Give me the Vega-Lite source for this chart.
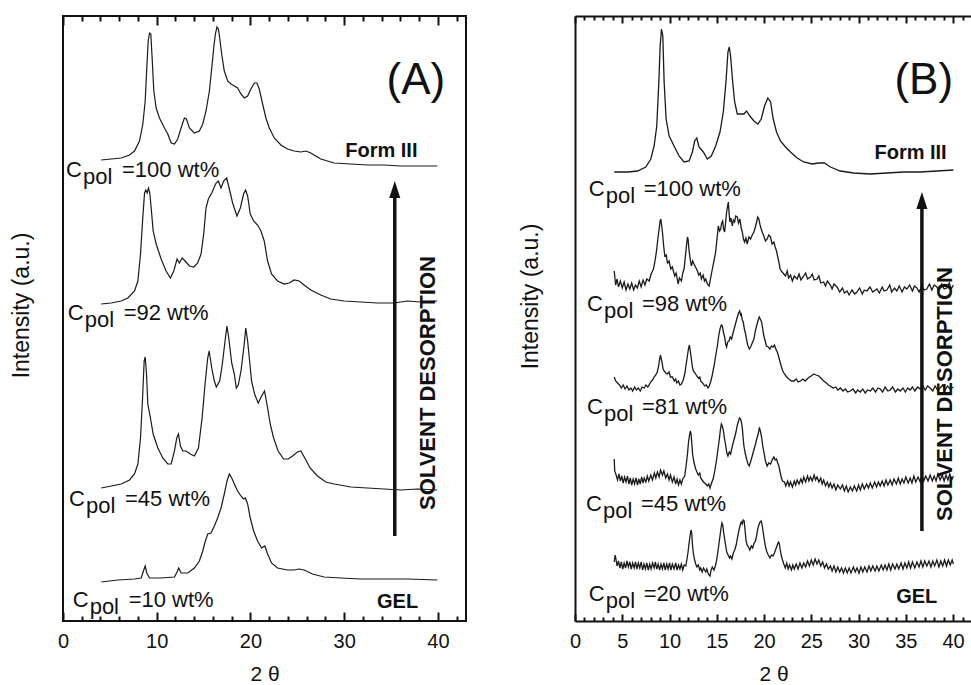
{
"$schema":"https://vega.github.io/schema/vega-lite/v6.json",
"autosize":{"type":"pad"},
"padding":{"left":9,"top":14,"right":0,"bottom":0},
"bounds":"flush",
"spacing":109,
"background":"white",
"config":{
 "font":"Liberation Sans",
 "axis":{"labelFont":"Liberation Sans","titleFont":"Liberation Sans","labelColor":"#111","titleColor":"#111","domainColor":"#111","tickColor":"#111","grid":false,"titleFontWeight":"normal","labelFlush":false,"labelOverlap":false,"labelFontSize":20,"tickWidth":2},
 "text":{"font":"Liberation Sans","color":"#111"}
},
"datasets":{
"curvesA":[
{"s":"a100","x":4.08,"y":461},{"s":"a100","x":5.15,"y":462},{"s":"a100","x":6.21,"y":463},{"s":"a100","x":7.1,"y":466},{"s":"a100","x":7.63,"y":470},{"s":"a100","x":8.16,"y":480},{"s":"a100","x":8.52,"y":497},{"s":"a100","x":8.77,"y":520},{"s":"a100","x":8.94,"y":553},{"s":"a100","x":9.09,"y":580},{"s":"a100","x":9.23,"y":588},{"s":"a100","x":9.37,"y":587},{"s":"a100","x":9.51,"y":563},{"s":"a100","x":9.69,"y":530},{"s":"a100","x":9.94,"y":513},{"s":"a100","x":10.29,"y":503},{"s":"a100","x":10.83,"y":493},{"s":"a100","x":11.18,"y":487},{"s":"a100","x":11.54,"y":478},{"s":"a100","x":11.89,"y":477},{"s":"a100","x":12.24,"y":482},{"s":"a100","x":12.6,"y":493},{"s":"a100","x":12.95,"y":503},{"s":"a100","x":13.17,"y":502},{"s":"a100","x":13.49,"y":493},{"s":"a100","x":14.02,"y":488},{"s":"a100","x":14.55,"y":490},{"s":"a100","x":14.91,"y":497},{"s":"a100","x":15.26,"y":510},{"s":"a100","x":15.62,"y":530},{"s":"a100","x":15.87,"y":553},{"s":"a100","x":16.08,"y":573},{"s":"a100","x":16.26,"y":587},{"s":"a100","x":16.43,"y":594},{"s":"a100","x":16.58,"y":592},{"s":"a100","x":16.72,"y":583},{"s":"a100","x":16.93,"y":567},{"s":"a100","x":17.21,"y":550},{"s":"a100","x":17.57,"y":540},{"s":"a100","x":17.92,"y":537},{"s":"a100","x":18.28,"y":535},{"s":"a100","x":18.63,"y":533},{"s":"a100","x":18.99,"y":527},{"s":"a100","x":19.34,"y":523},{"s":"a100","x":19.7,"y":525},{"s":"a100","x":20.05,"y":532},{"s":"a100","x":20.41,"y":538},{"s":"a100","x":20.69,"y":538},{"s":"a100","x":20.94,"y":532},{"s":"a100","x":21.3,"y":517},{"s":"a100","x":21.65,"y":503},{"s":"a100","x":22.01,"y":493},{"s":"a100","x":22.54,"y":483},{"s":"a100","x":23.25,"y":476},{"s":"a100","x":23.96,"y":472},{"s":"a100","x":24.67,"y":470},{"s":"a100","x":25.38,"y":469},{"s":"a100","x":25.91,"y":470},{"s":"a100","x":26.44,"y":468},{"s":"a100","x":26.97,"y":465},{"s":"a100","x":27.51,"y":462},{"s":"a100","x":28.93,"y":458},{"s":"a100","x":30.7,"y":457},{"s":"a100","x":32.48,"y":456},{"s":"a100","x":34.25,"y":456},{"s":"a100","x":36.02,"y":455},{"s":"a100","x":37.8,"y":455},{"s":"a100","x":39.93,"y":455},
{"s":"a92","x":4.08,"y":317},{"s":"a92","x":5.15,"y":318},{"s":"a92","x":6.21,"y":320},{"s":"a92","x":6.92,"y":323},{"s":"a92","x":7.63,"y":330},{"s":"a92","x":7.99,"y":340},{"s":"a92","x":8.27,"y":367},{"s":"a92","x":8.49,"y":400},{"s":"a92","x":8.7,"y":428},{"s":"a92","x":8.84,"y":431},{"s":"a92","x":8.98,"y":428},{"s":"a92","x":9.12,"y":433},{"s":"a92","x":9.26,"y":428},{"s":"a92","x":9.41,"y":413},{"s":"a92","x":9.62,"y":390},{"s":"a92","x":9.94,"y":377},{"s":"a92","x":10.47,"y":362},{"s":"a92","x":11.0,"y":350},{"s":"a92","x":11.46,"y":343},{"s":"a92","x":11.82,"y":350},{"s":"a92","x":12.17,"y":362},{"s":"a92","x":12.42,"y":358},{"s":"a92","x":12.71,"y":363},{"s":"a92","x":13.03,"y":360},{"s":"a92","x":13.49,"y":355},{"s":"a92","x":13.95,"y":354},{"s":"a92","x":14.37,"y":358},{"s":"a92","x":14.73,"y":367},{"s":"a92","x":15.01,"y":387},{"s":"a92","x":15.26,"y":413},{"s":"a92","x":15.51,"y":422},{"s":"a92","x":15.87,"y":428},{"s":"a92","x":16.33,"y":438},{"s":"a92","x":16.58,"y":440},{"s":"a92","x":16.86,"y":433},{"s":"a92","x":17.14,"y":440},{"s":"a92","x":17.46,"y":443},{"s":"a92","x":17.75,"y":432},{"s":"a92","x":18.1,"y":418},{"s":"a92","x":18.56,"y":405},{"s":"a92","x":18.92,"y":413},{"s":"a92","x":19.27,"y":427},{"s":"a92","x":19.48,"y":431},{"s":"a92","x":19.7,"y":425},{"s":"a92","x":19.98,"y":407},{"s":"a92","x":20.34,"y":400},{"s":"a92","x":20.76,"y":396},{"s":"a92","x":21.12,"y":390},{"s":"a92","x":21.47,"y":380},{"s":"a92","x":21.83,"y":360},{"s":"a92","x":22.25,"y":347},{"s":"a92","x":22.89,"y":340},{"s":"a92","x":23.6,"y":337},{"s":"a92","x":24.13,"y":338},{"s":"a92","x":24.67,"y":341},{"s":"a92","x":25.2,"y":340},{"s":"a92","x":25.73,"y":336},{"s":"a92","x":26.44,"y":331},{"s":"a92","x":27.51,"y":326},{"s":"a92","x":28.57,"y":322},{"s":"a92","x":29.99,"y":320},{"s":"a92","x":31.77,"y":319},{"s":"a92","x":33.54,"y":318},{"s":"a92","x":35.32,"y":318},{"s":"a92","x":36.74,"y":320},{"s":"a92","x":38.15,"y":319},{"s":"a92","x":39.93,"y":320},
{"s":"a45","x":4.08,"y":133},{"s":"a45","x":5.15,"y":135},{"s":"a45","x":6.21,"y":137},{"s":"a45","x":7.1,"y":141},{"s":"a45","x":7.63,"y":147},{"s":"a45","x":7.99,"y":157},{"s":"a45","x":8.27,"y":183},{"s":"a45","x":8.49,"y":223},{"s":"a45","x":8.66,"y":260},{"s":"a45","x":8.77,"y":264},{"s":"a45","x":8.91,"y":247},{"s":"a45","x":9.05,"y":217},{"s":"a45","x":9.33,"y":203},{"s":"a45","x":9.62,"y":187},{"s":"a45","x":10.12,"y":173},{"s":"a45","x":10.65,"y":163},{"s":"a45","x":11.18,"y":157},{"s":"a45","x":11.54,"y":157},{"s":"a45","x":11.89,"y":170},{"s":"a45","x":12.14,"y":183},{"s":"a45","x":12.32,"y":187},{"s":"a45","x":12.53,"y":175},{"s":"a45","x":12.78,"y":170},{"s":"a45","x":13.13,"y":170},{"s":"a45","x":13.59,"y":167},{"s":"a45","x":14.02,"y":165},{"s":"a45","x":14.45,"y":173},{"s":"a45","x":14.84,"y":203},{"s":"a45","x":15.16,"y":237},{"s":"a45","x":15.44,"y":263},{"s":"a45","x":15.6,"y":270},{"s":"a45","x":15.87,"y":253},{"s":"a45","x":16.15,"y":240},{"s":"a45","x":16.36,"y":234},{"s":"a45","x":16.72,"y":240},{"s":"a45","x":17.0,"y":257},{"s":"a45","x":17.29,"y":280},{"s":"a45","x":17.49,"y":295},{"s":"a45","x":17.7,"y":282},{"s":"a45","x":18.0,"y":258},{"s":"a45","x":18.28,"y":247},{"s":"a45","x":18.49,"y":233},{"s":"a45","x":18.7,"y":236},{"s":"a45","x":18.99,"y":250},{"s":"a45","x":19.34,"y":277},{"s":"a45","x":19.5,"y":293},{"s":"a45","x":19.7,"y":280},{"s":"a45","x":19.88,"y":263},{"s":"a45","x":20.12,"y":240},{"s":"a45","x":20.44,"y":227},{"s":"a45","x":20.83,"y":218},{"s":"a45","x":21.19,"y":225},{"s":"a45","x":21.5,"y":230},{"s":"a45","x":21.76,"y":217},{"s":"a45","x":22.11,"y":197},{"s":"a45","x":22.47,"y":183},{"s":"a45","x":22.96,"y":170},{"s":"a45","x":23.53,"y":162},{"s":"a45","x":24.03,"y":162},{"s":"a45","x":24.49,"y":165},{"s":"a45","x":25.02,"y":169},{"s":"a45","x":25.38,"y":170},{"s":"a45","x":25.8,"y":163},{"s":"a45","x":26.37,"y":153},{"s":"a45","x":27.15,"y":145},{"s":"a45","x":28.04,"y":139},{"s":"a45","x":28.93,"y":137},{"s":"a45","x":30.7,"y":134},{"s":"a45","x":32.48,"y":133},{"s":"a45","x":34.25,"y":132},{"s":"a45","x":36.02,"y":131},{"s":"a45","x":37.8,"y":132},{"s":"a45","x":39.93,"y":131},
{"s":"a10","x":4.08,"y":39},{"s":"a10","x":5.86,"y":41},{"s":"a10","x":7.63,"y":42},{"s":"a10","x":8.34,"y":43},{"s":"a10","x":8.62,"y":51},{"s":"a10","x":8.77,"y":55},{"s":"a10","x":8.94,"y":48},{"s":"a10","x":9.23,"y":43},{"s":"a10","x":10.47,"y":43},{"s":"a10","x":11.89,"y":44},{"s":"a10","x":12.17,"y":49},{"s":"a10","x":12.35,"y":53},{"s":"a10","x":12.6,"y":48},{"s":"a10","x":13.31,"y":48},{"s":"a10","x":14.02,"y":53},{"s":"a10","x":14.55,"y":60},{"s":"a10","x":14.91,"y":70},{"s":"a10","x":15.19,"y":80},{"s":"a10","x":15.44,"y":87},{"s":"a10","x":15.79,"y":88},{"s":"a10","x":16.15,"y":95},{"s":"a10","x":16.5,"y":103},{"s":"a10","x":16.86,"y":113},{"s":"a10","x":17.21,"y":127},{"s":"a10","x":17.5,"y":140},{"s":"a10","x":17.75,"y":147},{"s":"a10","x":18.0,"y":143},{"s":"a10","x":18.28,"y":137},{"s":"a10","x":18.63,"y":130},{"s":"a10","x":18.99,"y":125},{"s":"a10","x":19.27,"y":122},{"s":"a10","x":19.45,"y":123},{"s":"a10","x":19.7,"y":117},{"s":"a10","x":19.98,"y":103},{"s":"a10","x":20.34,"y":90},{"s":"a10","x":20.76,"y":80},{"s":"a10","x":21.19,"y":73},{"s":"a10","x":21.54,"y":75},{"s":"a10","x":21.83,"y":67},{"s":"a10","x":22.25,"y":58},{"s":"a10","x":22.89,"y":53},{"s":"a10","x":23.96,"y":51},{"s":"a10","x":24.67,"y":51},{"s":"a10","x":25.2,"y":52},{"s":"a10","x":25.73,"y":51},{"s":"a10","x":26.62,"y":47},{"s":"a10","x":27.86,"y":44},{"s":"a10","x":29.64,"y":43},{"s":"a10","x":31.77,"y":42},{"s":"a10","x":34.25,"y":42},{"s":"a10","x":36.73,"y":42},{"s":"a10","x":39.93,"y":41}
],
"curvesB":[
{"s":"b100","x":4.15,"y":449},{"s":"b100","x":5.56,"y":449},{"s":"b100","x":6.61,"y":450},{"s":"b100","x":7.49,"y":454},{"s":"b100","x":8.02,"y":462},{"s":"b100","x":8.37,"y":475},{"s":"b100","x":8.65,"y":495},{"s":"b100","x":8.87,"y":539},{"s":"b100","x":9.01,"y":575},{"s":"b100","x":9.15,"y":592},{"s":"b100","x":9.29,"y":585},{"s":"b100","x":9.43,"y":539},{"s":"b100","x":9.64,"y":502},{"s":"b100","x":9.96,"y":485},{"s":"b100","x":10.48,"y":475},{"s":"b100","x":11.01,"y":465},{"s":"b100","x":11.54,"y":459},{"s":"b100","x":12.07,"y":460},{"s":"b100","x":12.42,"y":469},{"s":"b100","x":12.66,"y":480},{"s":"b100","x":12.88,"y":483},{"s":"b100","x":13.12,"y":474},{"s":"b100","x":13.58,"y":469},{"s":"b100","x":14.0,"y":462},{"s":"b100","x":14.42,"y":465},{"s":"b100","x":14.88,"y":475},{"s":"b100","x":15.34,"y":489},{"s":"b100","x":15.69,"y":509},{"s":"b100","x":15.97,"y":539},{"s":"b100","x":16.18,"y":569},{"s":"b100","x":16.32,"y":574},{"s":"b100","x":16.46,"y":565},{"s":"b100","x":16.68,"y":539},{"s":"b100","x":16.89,"y":519},{"s":"b100","x":17.17,"y":507},{"s":"b100","x":17.52,"y":507},{"s":"b100","x":17.87,"y":507},{"s":"b100","x":18.15,"y":510},{"s":"b100","x":18.5,"y":505},{"s":"b100","x":18.93,"y":500},{"s":"b100","x":19.35,"y":497},{"s":"b100","x":19.7,"y":502},{"s":"b100","x":20.05,"y":515},{"s":"b100","x":20.4,"y":523},{"s":"b100","x":20.69,"y":519},{"s":"b100","x":20.97,"y":502},{"s":"b100","x":21.32,"y":489},{"s":"b100","x":21.74,"y":480},{"s":"b100","x":22.27,"y":474},{"s":"b100","x":22.8,"y":469},{"s":"b100","x":23.5,"y":463},{"s":"b100","x":24.2,"y":459},{"s":"b100","x":25.08,"y":457},{"s":"b100","x":25.79,"y":458},{"s":"b100","x":26.38,"y":458},{"s":"b100","x":27.02,"y":454},{"s":"b100","x":28.07,"y":450},{"s":"b100","x":29.48,"y":448},{"s":"b100","x":31.24,"y":447},{"s":"b100","x":33.0,"y":448},{"s":"b100","x":34.76,"y":449},{"s":"b100","x":36.52,"y":449},{"s":"b100","x":38.28,"y":450},{"s":"b100","x":40.03,"y":451},
{"s":"b98","x":4.15,"y":350},{"s":"b98","x":4.3,"y":336},{"s":"b98","x":4.45,"y":342},{"s":"b98","x":4.6,"y":334},{"s":"b98","x":4.8,"y":340},{"s":"b98","x":5.0,"y":333},{"s":"b98","x":5.2,"y":339},{"s":"b98","x":5.4,"y":331},{"s":"b98","x":5.6,"y":337},{"s":"b98","x":5.8,"y":332},{"s":"b98","x":6.0,"y":338},{"s":"b98","x":6.2,"y":331},{"s":"b98","x":6.4,"y":336},{"s":"b98","x":6.6,"y":333},{"s":"b98","x":6.8,"y":340},{"s":"b98","x":7.0,"y":334},{"s":"b98","x":7.2,"y":341},{"s":"b98","x":7.4,"y":336},{"s":"b98","x":7.6,"y":342},{"s":"b98","x":7.85,"y":340},{"s":"b98","x":8.05,"y":347},{"s":"b98","x":8.3,"y":352},{"s":"b98","x":8.5,"y":362},{"s":"b98","x":8.65,"y":372},{"s":"b98","x":8.8,"y":385},{"s":"b98","x":8.9,"y":392},{"s":"b98","x":9.0,"y":400},{"s":"b98","x":9.08,"y":402},{"s":"b98","x":9.17,"y":395},{"s":"b98","x":9.25,"y":389},{"s":"b98","x":9.38,"y":375},{"s":"b98","x":9.5,"y":365},{"s":"b98","x":9.65,"y":366},{"s":"b98","x":9.78,"y":358},{"s":"b98","x":9.95,"y":360},{"s":"b98","x":10.13,"y":352},{"s":"b98","x":10.3,"y":354},{"s":"b98","x":10.55,"y":345},{"s":"b98","x":10.7,"y":348},{"s":"b98","x":10.91,"y":337},{"s":"b98","x":11.05,"y":343},{"s":"b98","x":11.26,"y":340},{"s":"b98","x":11.4,"y":348},{"s":"b98","x":11.54,"y":352},{"s":"b98","x":11.68,"y":365},{"s":"b98","x":11.79,"y":375},{"s":"b98","x":11.9,"y":384},{"s":"b98","x":11.96,"y":382},{"s":"b98","x":12.05,"y":372},{"s":"b98","x":12.14,"y":365},{"s":"b98","x":12.22,"y":360},{"s":"b98","x":12.31,"y":355},{"s":"b98","x":12.45,"y":360},{"s":"b98","x":12.59,"y":357},{"s":"b98","x":12.75,"y":354},{"s":"b98","x":12.95,"y":350},{"s":"b98","x":13.1,"y":346},{"s":"b98","x":13.25,"y":348},{"s":"b98","x":13.37,"y":342},{"s":"b98","x":13.55,"y":346},{"s":"b98","x":13.7,"y":340},{"s":"b98","x":13.83,"y":342},{"s":"b98","x":14.0,"y":337},{"s":"b98","x":14.19,"y":335},{"s":"b98","x":14.35,"y":343},{"s":"b98","x":14.53,"y":352},{"s":"b98","x":14.7,"y":360},{"s":"b98","x":14.88,"y":369},{"s":"b98","x":15.02,"y":382},{"s":"b98","x":15.16,"y":395},{"s":"b98","x":15.3,"y":390},{"s":"b98","x":15.41,"y":392},{"s":"b98","x":15.52,"y":398},{"s":"b98","x":15.62,"y":400},{"s":"b98","x":15.72,"y":392},{"s":"b98","x":15.83,"y":389},{"s":"b98","x":15.95,"y":400},{"s":"b98","x":16.04,"y":409},{"s":"b98","x":16.13,"y":414},{"s":"b98","x":16.22,"y":419},{"s":"b98","x":16.3,"y":408},{"s":"b98","x":16.39,"y":399},{"s":"b98","x":16.5,"y":403},{"s":"b98","x":16.64,"y":395},{"s":"b98","x":16.76,"y":401},{"s":"b98","x":16.89,"y":399},{"s":"b98","x":17.0,"y":405},{"s":"b98","x":17.17,"y":404},{"s":"b98","x":17.3,"y":398},{"s":"b98","x":17.45,"y":402},{"s":"b98","x":17.58,"y":393},{"s":"b98","x":17.7,"y":389},{"s":"b98","x":17.82,"y":382},{"s":"b98","x":17.94,"y":379},{"s":"b98","x":18.08,"y":383},{"s":"b98","x":18.22,"y":377},{"s":"b98","x":18.4,"y":384},{"s":"b98","x":18.58,"y":382},{"s":"b98","x":18.75,"y":386},{"s":"b98","x":18.93,"y":389},{"s":"b98","x":19.08,"y":394},{"s":"b98","x":19.21,"y":399},{"s":"b98","x":19.33,"y":404},{"s":"b98","x":19.45,"y":402},{"s":"b98","x":19.58,"y":396},{"s":"b98","x":19.7,"y":392},{"s":"b98","x":19.84,"y":388},{"s":"b98","x":19.98,"y":385},{"s":"b98","x":20.15,"y":380},{"s":"b98","x":20.33,"y":382},{"s":"b98","x":20.5,"y":386},{"s":"b98","x":20.69,"y":384},{"s":"b98","x":20.85,"y":377},{"s":"b98","x":21.04,"y":379},{"s":"b98","x":21.18,"y":374},{"s":"b98","x":21.32,"y":370},{"s":"b98","x":21.45,"y":364},{"s":"b98","x":21.57,"y":359},{"s":"b98","x":21.7,"y":352},{"s":"b98","x":21.81,"y":350},{"s":"b98","x":22.0,"y":348},{"s":"b98","x":22.27,"y":345},{"s":"b98","x":22.45,"y":350},{"s":"b98","x":22.6,"y":343},{"s":"b98","x":22.8,"y":346},{"s":"b98","x":23.0,"y":340},{"s":"b98","x":23.2,"y":345},{"s":"b98","x":23.5,"y":342},{"s":"b98","x":23.7,"y":347},{"s":"b98","x":23.9,"y":341},{"s":"b98","x":24.2,"y":345},{"s":"b98","x":24.4,"y":348},{"s":"b98","x":24.6,"y":342},{"s":"b98","x":24.91,"y":344},{"s":"b98","x":25.1,"y":347},{"s":"b98","x":25.3,"y":341},{"s":"b98","x":25.61,"y":342},{"s":"b98","x":25.8,"y":345},{"s":"b98","x":26.0,"y":338},{"s":"b98","x":26.31,"y":339},{"s":"b98","x":26.5,"y":335},{"s":"b98","x":26.7,"y":340},{"s":"b98","x":27.02,"y":336},{"s":"b98","x":27.2,"y":332},{"s":"b98","x":27.4,"y":337},{"s":"b98","x":27.72,"y":334},{"s":"b98","x":28.0,"y":329},{"s":"b98","x":28.3,"y":333},{"s":"b98","x":28.5,"y":328},{"s":"b98","x":28.78,"y":330},{"s":"b98","x":29.0,"y":326},{"s":"b98","x":29.3,"y":331},{"s":"b98","x":29.6,"y":327},{"s":"b98","x":29.83,"y":329},{"s":"b98","x":30.1,"y":333},{"s":"b98","x":30.4,"y":327},{"s":"b98","x":30.6,"y":331},{"s":"b98","x":30.89,"y":330},{"s":"b98","x":31.2,"y":334},{"s":"b98","x":31.5,"y":329},{"s":"b98","x":31.94,"y":332},{"s":"b98","x":32.2,"y":328},{"s":"b98","x":32.5,"y":334},{"s":"b98","x":32.7,"y":330},{"s":"b98","x":33.0,"y":331},{"s":"b98","x":33.3,"y":336},{"s":"b98","x":33.5,"y":329},{"s":"b98","x":33.8,"y":333},{"s":"b98","x":34.05,"y":330},{"s":"b98","x":34.3,"y":335},{"s":"b98","x":34.6,"y":329},{"s":"b98","x":34.85,"y":334},{"s":"b98","x":35.11,"y":332},{"s":"b98","x":35.4,"y":336},{"s":"b98","x":35.7,"y":330},{"s":"b98","x":35.9,"y":335},{"s":"b98","x":36.17,"y":333},{"s":"b98","x":36.4,"y":329},{"s":"b98","x":36.7,"y":335},{"s":"b98","x":36.95,"y":331},{"s":"b98","x":37.22,"y":332},{"s":"b98","x":37.5,"y":337},{"s":"b98","x":37.75,"y":331},{"s":"b98","x":38.0,"y":336},{"s":"b98","x":38.28,"y":334},{"s":"b98","x":38.5,"y":330},{"s":"b98","x":38.8,"y":337},{"s":"b98","x":39.05,"y":332},{"s":"b98","x":39.33,"y":333},{"s":"b98","x":39.6,"y":338},{"s":"b98","x":39.8,"y":332},{"s":"b98","x":40.03,"y":336},
{"s":"b81","x":4.15,"y":244},{"s":"b81","x":4.3,"y":240},{"s":"b81","x":4.5,"y":238},{"s":"b81","x":4.7,"y":236},{"s":"b81","x":4.9,"y":233},{"s":"b81","x":5.1,"y":236},{"s":"b81","x":5.3,"y":232},{"s":"b81","x":5.5,"y":235},{"s":"b81","x":5.7,"y":231},{"s":"b81","x":5.91,"y":233},{"s":"b81","x":6.1,"y":230},{"s":"b81","x":6.3,"y":234},{"s":"b81","x":6.5,"y":231},{"s":"b81","x":6.7,"y":233},{"s":"b81","x":6.9,"y":230},{"s":"b81","x":7.1,"y":234},{"s":"b81","x":7.32,"y":233},{"s":"b81","x":7.5,"y":236},{"s":"b81","x":7.7,"y":234},{"s":"b81","x":7.85,"y":236},{"s":"b81","x":8.0,"y":239},{"s":"b81","x":8.2,"y":241},{"s":"b81","x":8.37,"y":244},{"s":"b81","x":8.55,"y":246},{"s":"b81","x":8.7,"y":249},{"s":"b81","x":8.85,"y":255},{"s":"b81","x":8.95,"y":262},{"s":"b81","x":9.05,"y":266},{"s":"b81","x":9.12,"y":262},{"s":"b81","x":9.22,"y":258},{"s":"b81","x":9.32,"y":252},{"s":"b81","x":9.43,"y":250},{"s":"b81","x":9.6,"y":248},{"s":"b81","x":9.78,"y":247},{"s":"b81","x":9.95,"y":249},{"s":"b81","x":10.1,"y":244},{"s":"b81","x":10.31,"y":244},{"s":"b81","x":10.5,"y":240},{"s":"b81","x":10.65,"y":242},{"s":"b81","x":10.77,"y":238},{"s":"b81","x":10.95,"y":240},{"s":"b81","x":11.1,"y":236},{"s":"b81","x":11.26,"y":237},{"s":"b81","x":11.45,"y":241},{"s":"b81","x":11.61,"y":247},{"s":"b81","x":11.75,"y":256},{"s":"b81","x":11.89,"y":265},{"s":"b81","x":12.0,"y":272},{"s":"b81","x":12.1,"y":276},{"s":"b81","x":12.2,"y":270},{"s":"b81","x":12.31,"y":262},{"s":"b81","x":12.42,"y":254},{"s":"b81","x":12.52,"y":250},{"s":"b81","x":12.7,"y":248},{"s":"b81","x":12.88,"y":245},{"s":"b81","x":13.05,"y":243},{"s":"b81","x":13.2,"y":244},{"s":"b81","x":13.3,"y":240},{"s":"b81","x":13.5,"y":238},{"s":"b81","x":13.72,"y":235},{"s":"b81","x":13.9,"y":236},{"s":"b81","x":14.07,"y":233},{"s":"b81","x":14.2,"y":235},{"s":"b81","x":14.35,"y":239},{"s":"b81","x":14.5,"y":245},{"s":"b81","x":14.71,"y":255},{"s":"b81","x":14.9,"y":266},{"s":"b81","x":15.06,"y":275},{"s":"b81","x":15.2,"y":285},{"s":"b81","x":15.34,"y":292},{"s":"b81","x":15.48,"y":296},{"s":"b81","x":15.59,"y":295},{"s":"b81","x":15.7,"y":289},{"s":"b81","x":15.83,"y":284},{"s":"b81","x":15.94,"y":277},{"s":"b81","x":16.04,"y":274},{"s":"b81","x":16.15,"y":279},{"s":"b81","x":16.29,"y":280},{"s":"b81","x":16.42,"y":284},{"s":"b81","x":16.57,"y":282},{"s":"b81","x":16.72,"y":288},{"s":"b81","x":16.89,"y":294},{"s":"b81","x":17.03,"y":299},{"s":"b81","x":17.17,"y":304},{"s":"b81","x":17.3,"y":308},{"s":"b81","x":17.42,"y":310},{"s":"b81","x":17.52,"y":306},{"s":"b81","x":17.59,"y":307},{"s":"b81","x":17.7,"y":301},{"s":"b81","x":17.8,"y":299},{"s":"b81","x":17.92,"y":292},{"s":"b81","x":18.05,"y":287},{"s":"b81","x":18.18,"y":280},{"s":"b81","x":18.3,"y":275},{"s":"b81","x":18.45,"y":272},{"s":"b81","x":18.58,"y":274},{"s":"b81","x":18.75,"y":278},{"s":"b81","x":18.93,"y":282},{"s":"b81","x":19.08,"y":290},{"s":"b81","x":19.21,"y":295},{"s":"b81","x":19.35,"y":300},{"s":"b81","x":19.49,"y":304},{"s":"b81","x":19.6,"y":302},{"s":"b81","x":19.74,"y":299},{"s":"b81","x":19.86,"y":292},{"s":"b81","x":19.98,"y":285},{"s":"b81","x":20.12,"y":280},{"s":"b81","x":20.26,"y":275},{"s":"b81","x":20.45,"y":274},{"s":"b81","x":20.62,"y":272},{"s":"b81","x":20.8,"y":275},{"s":"b81","x":20.97,"y":274},{"s":"b81","x":21.1,"y":276},{"s":"b81","x":21.25,"y":272},{"s":"b81","x":21.4,"y":269},{"s":"b81","x":21.53,"y":265},{"s":"b81","x":21.67,"y":260},{"s":"b81","x":21.81,"y":255},{"s":"b81","x":21.98,"y":250},{"s":"b81","x":22.16,"y":247},{"s":"b81","x":22.4,"y":244},{"s":"b81","x":22.62,"y":242},{"s":"b81","x":22.9,"y":240},{"s":"b81","x":23.15,"y":240},{"s":"b81","x":23.4,"y":242},{"s":"b81","x":23.6,"y":239},{"s":"b81","x":23.85,"y":240},{"s":"b81","x":24.1,"y":242},{"s":"b81","x":24.35,"y":240},{"s":"b81","x":24.56,"y":242},{"s":"b81","x":24.8,"y":244},{"s":"b81","x":25.0,"y":245},{"s":"b81","x":25.26,"y":247},{"s":"b81","x":25.5,"y":246},{"s":"b81","x":25.79,"y":245},{"s":"b81","x":26.0,"y":243},{"s":"b81","x":26.31,"y":240},{"s":"b81","x":26.6,"y":238},{"s":"b81","x":26.8,"y":236},{"s":"b81","x":27.02,"y":235},{"s":"b81","x":27.3,"y":233},{"s":"b81","x":27.6,"y":234},{"s":"b81","x":27.8,"y":231},{"s":"b81","x":28.07,"y":233},{"s":"b81","x":28.35,"y":230},{"s":"b81","x":28.6,"y":232},{"s":"b81","x":28.85,"y":229},{"s":"b81","x":29.13,"y":230},{"s":"b81","x":29.4,"y":232},{"s":"b81","x":29.7,"y":228},{"s":"b81","x":29.9,"y":231},{"s":"b81","x":30.18,"y":229},{"s":"b81","x":30.45,"y":232},{"s":"b81","x":30.7,"y":228},{"s":"b81","x":30.95,"y":231},{"s":"b81","x":31.24,"y":230},{"s":"b81","x":31.5,"y":233},{"s":"b81","x":31.8,"y":229},{"s":"b81","x":32.05,"y":233},{"s":"b81","x":32.29,"y":232},{"s":"b81","x":32.55,"y":229},{"s":"b81","x":32.8,"y":234},{"s":"b81","x":33.1,"y":230},{"s":"b81","x":33.35,"y":231},{"s":"b81","x":33.6,"y":234},{"s":"b81","x":33.9,"y":229},{"s":"b81","x":34.15,"y":232},{"s":"b81","x":34.41,"y":230},{"s":"b81","x":34.7,"y":233},{"s":"b81","x":34.95,"y":229},{"s":"b81","x":35.2,"y":233},{"s":"b81","x":35.46,"y":231},{"s":"b81","x":35.7,"y":234},{"s":"b81","x":35.95,"y":230},{"s":"b81","x":36.25,"y":234},{"s":"b81","x":36.52,"y":232},{"s":"b81","x":36.8,"y":235},{"s":"b81","x":37.05,"y":231},{"s":"b81","x":37.3,"y":235},{"s":"b81","x":37.57,"y":233},{"s":"b81","x":37.85,"y":230},{"s":"b81","x":38.1,"y":235},{"s":"b81","x":38.35,"y":231},{"s":"b81","x":38.63,"y":233},{"s":"b81","x":38.9,"y":236},{"s":"b81","x":39.15,"y":231},{"s":"b81","x":39.4,"y":235},{"s":"b81","x":39.7,"y":232},{"s":"b81","x":40.03,"y":234},
{"s":"b45","x":4.15,"y":162},{"s":"b45","x":4.2,"y":150},{"s":"b45","x":4.35,"y":146},{"s":"b45","x":4.5,"y":141},{"s":"b45","x":4.65,"y":147},{"s":"b45","x":4.8,"y":140},{"s":"b45","x":4.95,"y":145},{"s":"b45","x":5.1,"y":138},{"s":"b45","x":5.25,"y":144},{"s":"b45","x":5.4,"y":139},{"s":"b45","x":5.55,"y":145},{"s":"b45","x":5.7,"y":137},{"s":"b45","x":5.85,"y":143},{"s":"b45","x":6.0,"y":136},{"s":"b45","x":6.15,"y":142},{"s":"b45","x":6.3,"y":137},{"s":"b45","x":6.45,"y":143},{"s":"b45","x":6.61,"y":136},{"s":"b45","x":6.75,"y":142},{"s":"b45","x":6.9,"y":137},{"s":"b45","x":7.05,"y":144},{"s":"b45","x":7.2,"y":138},{"s":"b45","x":7.32,"y":143},{"s":"b45","x":7.5,"y":139},{"s":"b45","x":7.65,"y":145},{"s":"b45","x":7.8,"y":140},{"s":"b45","x":8.02,"y":146},{"s":"b45","x":8.2,"y":141},{"s":"b45","x":8.4,"y":148},{"s":"b45","x":8.55,"y":143},{"s":"b45","x":8.72,"y":149},{"s":"b45","x":8.9,"y":144},{"s":"b45","x":9.05,"y":151},{"s":"b45","x":9.25,"y":146},{"s":"b45","x":9.4,"y":150},{"s":"b45","x":9.6,"y":143},{"s":"b45","x":9.78,"y":147},{"s":"b45","x":9.95,"y":141},{"s":"b45","x":10.1,"y":146},{"s":"b45","x":10.3,"y":139},{"s":"b45","x":10.48,"y":144},{"s":"b45","x":10.65,"y":137},{"s":"b45","x":10.8,"y":142},{"s":"b45","x":10.95,"y":136},{"s":"b45","x":11.1,"y":141},{"s":"b45","x":11.25,"y":137},{"s":"b45","x":11.4,"y":142},{"s":"b45","x":11.61,"y":145},{"s":"b45","x":11.75,"y":155},{"s":"b45","x":11.89,"y":166},{"s":"b45","x":12.0,"y":178},{"s":"b45","x":12.1,"y":185},{"s":"b45","x":12.2,"y":190},{"s":"b45","x":12.28,"y":187},{"s":"b45","x":12.37,"y":176},{"s":"b45","x":12.45,"y":166},{"s":"b45","x":12.6,"y":158},{"s":"b45","x":12.77,"y":152},{"s":"b45","x":12.9,"y":149},{"s":"b45","x":13.05,"y":146},{"s":"b45","x":13.2,"y":148},{"s":"b45","x":13.3,"y":143},{"s":"b45","x":13.45,"y":141},{"s":"b45","x":13.6,"y":139},{"s":"b45","x":13.83,"y":137},{"s":"b45","x":14.0,"y":135},{"s":"b45","x":14.15,"y":137},{"s":"b45","x":14.28,"y":133},{"s":"b45","x":14.45,"y":138},{"s":"b45","x":14.64,"y":143},{"s":"b45","x":14.8,"y":151},{"s":"b45","x":14.99,"y":162},{"s":"b45","x":15.13,"y":172},{"s":"b45","x":15.27,"y":182},{"s":"b45","x":15.38,"y":191},{"s":"b45","x":15.48,"y":197},{"s":"b45","x":15.58,"y":195},{"s":"b45","x":15.69,"y":191},{"s":"b45","x":15.82,"y":182},{"s":"b45","x":15.94,"y":176},{"s":"b45","x":16.06,"y":168},{"s":"b45","x":16.18,"y":165},{"s":"b45","x":16.32,"y":169},{"s":"b45","x":16.46,"y":167},{"s":"b45","x":16.6,"y":173},{"s":"b45","x":16.75,"y":179},{"s":"b45","x":16.9,"y":184},{"s":"b45","x":17.03,"y":189},{"s":"b45","x":17.15,"y":195},{"s":"b45","x":17.27,"y":199},{"s":"b45","x":17.4,"y":203},{"s":"b45","x":17.52,"y":202},{"s":"b45","x":17.62,"y":198},{"s":"b45","x":17.7,"y":193},{"s":"b45","x":17.8,"y":182},{"s":"b45","x":17.87,"y":175},{"s":"b45","x":18.0,"y":168},{"s":"b45","x":18.15,"y":162},{"s":"b45","x":18.3,"y":157},{"s":"b45","x":18.43,"y":155},{"s":"b45","x":18.6,"y":160},{"s":"b45","x":18.75,"y":165},{"s":"b45","x":18.92,"y":171},{"s":"b45","x":19.1,"y":177},{"s":"b45","x":19.25,"y":183},{"s":"b45","x":19.38,"y":187},{"s":"b45","x":19.5,"y":193},{"s":"b45","x":19.56,"y":192},{"s":"b45","x":19.65,"y":188},{"s":"b45","x":19.74,"y":184},{"s":"b45","x":19.86,"y":175},{"s":"b45","x":19.98,"y":169},{"s":"b45","x":20.15,"y":160},{"s":"b45","x":20.33,"y":155},{"s":"b45","x":20.5,"y":158},{"s":"b45","x":20.69,"y":157},{"s":"b45","x":20.85,"y":161},{"s":"b45","x":21.04,"y":164},{"s":"b45","x":21.18,"y":161},{"s":"b45","x":21.32,"y":162},{"s":"b45","x":21.45,"y":158},{"s":"b45","x":21.57,"y":155},{"s":"b45","x":21.7,"y":149},{"s":"b45","x":21.81,"y":144},{"s":"b45","x":21.95,"y":140},{"s":"b45","x":22.16,"y":139},{"s":"b45","x":22.3,"y":135},{"s":"b45","x":22.5,"y":140},{"s":"b45","x":22.65,"y":135},{"s":"b45","x":22.8,"y":139},{"s":"b45","x":23.0,"y":134},{"s":"b45","x":23.2,"y":140},{"s":"b45","x":23.35,"y":136},{"s":"b45","x":23.5,"y":141},{"s":"b45","x":23.7,"y":137},{"s":"b45","x":23.9,"y":142},{"s":"b45","x":24.05,"y":138},{"s":"b45","x":24.2,"y":144},{"s":"b45","x":24.4,"y":139},{"s":"b45","x":24.6,"y":145},{"s":"b45","x":24.75,"y":140},{"s":"b45","x":24.91,"y":144},{"s":"b45","x":25.1,"y":140},{"s":"b45","x":25.3,"y":146},{"s":"b45","x":25.45,"y":141},{"s":"b45","x":25.61,"y":144},{"s":"b45","x":25.8,"y":139},{"s":"b45","x":26.0,"y":143},{"s":"b45","x":26.15,"y":137},{"s":"b45","x":26.31,"y":141},{"s":"b45","x":26.5,"y":135},{"s":"b45","x":26.7,"y":139},{"s":"b45","x":26.85,"y":134},{"s":"b45","x":27.02,"y":138},{"s":"b45","x":27.2,"y":133},{"s":"b45","x":27.4,"y":137},{"s":"b45","x":27.6,"y":131},{"s":"b45","x":27.8,"y":136},{"s":"b45","x":28.07,"y":132},{"s":"b45","x":28.3,"y":136},{"s":"b45","x":28.5,"y":130},{"s":"b45","x":28.7,"y":135},{"s":"b45","x":28.9,"y":129},{"s":"b45","x":29.13,"y":134},{"s":"b45","x":29.35,"y":130},{"s":"b45","x":29.55,"y":135},{"s":"b45","x":29.8,"y":130},{"s":"b45","x":30.0,"y":136},{"s":"b45","x":30.18,"y":131},{"s":"b45","x":30.4,"y":137},{"s":"b45","x":30.6,"y":132},{"s":"b45","x":30.85,"y":137},{"s":"b45","x":31.05,"y":133},{"s":"b45","x":31.24,"y":138},{"s":"b45","x":31.45,"y":133},{"s":"b45","x":31.7,"y":139},{"s":"b45","x":31.9,"y":134},{"s":"b45","x":32.1,"y":139},{"s":"b45","x":32.29,"y":135},{"s":"b45","x":32.5,"y":140},{"s":"b45","x":32.7,"y":135},{"s":"b45","x":32.9,"y":141},{"s":"b45","x":33.1,"y":136},{"s":"b45","x":33.35,"y":141},{"s":"b45","x":33.55,"y":136},{"s":"b45","x":33.75,"y":142},{"s":"b45","x":34.0,"y":137},{"s":"b45","x":34.2,"y":143},{"s":"b45","x":34.41,"y":137},{"s":"b45","x":34.6,"y":142},{"s":"b45","x":34.8,"y":138},{"s":"b45","x":35.0,"y":144},{"s":"b45","x":35.25,"y":138},{"s":"b45","x":35.46,"y":143},{"s":"b45","x":35.65,"y":138},{"s":"b45","x":35.85,"y":145},{"s":"b45","x":36.05,"y":139},{"s":"b45","x":36.3,"y":144},{"s":"b45","x":36.52,"y":139},{"s":"b45","x":36.7,"y":146},{"s":"b45","x":36.9,"y":140},{"s":"b45","x":37.1,"y":145},{"s":"b45","x":37.35,"y":140},{"s":"b45","x":37.57,"y":146},{"s":"b45","x":37.8,"y":140},{"s":"b45","x":38.0,"y":145},{"s":"b45","x":38.2,"y":140},{"s":"b45","x":38.4,"y":147},{"s":"b45","x":38.63,"y":141},{"s":"b45","x":38.85,"y":146},{"s":"b45","x":39.05,"y":140},{"s":"b45","x":39.25,"y":146},{"s":"b45","x":39.45,"y":141},{"s":"b45","x":39.65,"y":147},{"s":"b45","x":39.85,"y":141},{"s":"b45","x":40.03,"y":145},
{"s":"b20","x":4.15,"y":59},{"s":"b20","x":4.25,"y":66},{"s":"b20","x":4.33,"y":62},{"s":"b20","x":4.45,"y":55},{"s":"b20","x":4.6,"y":60},{"s":"b20","x":4.75,"y":53},{"s":"b20","x":4.9,"y":59},{"s":"b20","x":5.05,"y":52},{"s":"b20","x":5.2,"y":58},{"s":"b20","x":5.35,"y":53},{"s":"b20","x":5.5,"y":60},{"s":"b20","x":5.65,"y":54},{"s":"b20","x":5.8,"y":59},{"s":"b20","x":5.95,"y":52},{"s":"b20","x":6.1,"y":58},{"s":"b20","x":6.26,"y":53},{"s":"b20","x":6.4,"y":59},{"s":"b20","x":6.55,"y":52},{"s":"b20","x":6.7,"y":58},{"s":"b20","x":6.85,"y":53},{"s":"b20","x":7.0,"y":59},{"s":"b20","x":7.15,"y":51},{"s":"b20","x":7.3,"y":57},{"s":"b20","x":7.45,"y":52},{"s":"b20","x":7.6,"y":58},{"s":"b20","x":7.75,"y":51},{"s":"b20","x":7.9,"y":57},{"s":"b20","x":8.05,"y":52},{"s":"b20","x":8.2,"y":58},{"s":"b20","x":8.37,"y":53},{"s":"b20","x":8.5,"y":59},{"s":"b20","x":8.65,"y":52},{"s":"b20","x":8.8,"y":57},{"s":"b20","x":8.95,"y":51},{"s":"b20","x":9.1,"y":57},{"s":"b20","x":9.25,"y":52},{"s":"b20","x":9.4,"y":58},{"s":"b20","x":9.55,"y":51},{"s":"b20","x":9.7,"y":57},{"s":"b20","x":9.85,"y":52},{"s":"b20","x":10.0,"y":58},{"s":"b20","x":10.15,"y":51},{"s":"b20","x":10.3,"y":57},{"s":"b20","x":10.48,"y":52},{"s":"b20","x":10.65,"y":58},{"s":"b20","x":10.8,"y":51},{"s":"b20","x":10.95,"y":56},{"s":"b20","x":11.1,"y":52},{"s":"b20","x":11.25,"y":57},{"s":"b20","x":11.4,"y":51},{"s":"b20","x":11.55,"y":56},{"s":"b20","x":11.72,"y":55},{"s":"b20","x":11.85,"y":62},{"s":"b20","x":11.96,"y":69},{"s":"b20","x":12.07,"y":78},{"s":"b20","x":12.17,"y":85},{"s":"b20","x":12.27,"y":91},{"s":"b20","x":12.35,"y":88},{"s":"b20","x":12.43,"y":76},{"s":"b20","x":12.52,"y":68},{"s":"b20","x":12.65,"y":61},{"s":"b20","x":12.77,"y":57},{"s":"b20","x":12.9,"y":54},{"s":"b20","x":13.05,"y":56},{"s":"b20","x":13.2,"y":51},{"s":"b20","x":13.3,"y":53},{"s":"b20","x":13.45,"y":49},{"s":"b20","x":13.6,"y":53},{"s":"b20","x":13.83,"y":49},{"s":"b20","x":13.95,"y":52},{"s":"b20","x":14.1,"y":47},{"s":"b20","x":14.28,"y":45},{"s":"b20","x":14.4,"y":51},{"s":"b20","x":14.53,"y":54},{"s":"b20","x":14.7,"y":51},{"s":"b20","x":14.88,"y":56},{"s":"b20","x":15.0,"y":62},{"s":"b20","x":15.13,"y":70},{"s":"b20","x":15.25,"y":79},{"s":"b20","x":15.34,"y":85},{"s":"b20","x":15.45,"y":93},{"s":"b20","x":15.55,"y":98},{"s":"b20","x":15.63,"y":96},{"s":"b20","x":15.72,"y":89},{"s":"b20","x":15.83,"y":82},{"s":"b20","x":15.95,"y":75},{"s":"b20","x":16.05,"y":69},{"s":"b20","x":16.2,"y":66},{"s":"b20","x":16.35,"y":63},{"s":"b20","x":16.46,"y":65},{"s":"b20","x":16.6,"y":62},{"s":"b20","x":16.75,"y":68},{"s":"b20","x":16.9,"y":71},{"s":"b20","x":17.05,"y":76},{"s":"b20","x":17.2,"y":84},{"s":"b20","x":17.35,"y":91},{"s":"b20","x":17.48,"y":96},{"s":"b20","x":17.59,"y":99},{"s":"b20","x":17.7,"y":97},{"s":"b20","x":17.8,"y":101},{"s":"b20","x":17.9,"y":100},{"s":"b20","x":18.0,"y":90},{"s":"b20","x":18.1,"y":80},{"s":"b20","x":18.2,"y":76},{"s":"b20","x":18.35,"y":74},{"s":"b20","x":18.5,"y":71},{"s":"b20","x":18.65,"y":75},{"s":"b20","x":18.8,"y":73},{"s":"b20","x":18.95,"y":78},{"s":"b20","x":19.1,"y":80},{"s":"b20","x":19.21,"y":85},{"s":"b20","x":19.33,"y":92},{"s":"b20","x":19.45,"y":96},{"s":"b20","x":19.58,"y":99},{"s":"b20","x":19.7,"y":100},{"s":"b20","x":19.8,"y":96},{"s":"b20","x":19.92,"y":88},{"s":"b20","x":20.05,"y":80},{"s":"b20","x":20.16,"y":74},{"s":"b20","x":20.3,"y":69},{"s":"b20","x":20.45,"y":66},{"s":"b20","x":20.62,"y":63},{"s":"b20","x":20.8,"y":66},{"s":"b20","x":20.95,"y":65},{"s":"b20","x":21.1,"y":68},{"s":"b20","x":21.25,"y":72},{"s":"b20","x":21.4,"y":76},{"s":"b20","x":21.52,"y":79},{"s":"b20","x":21.6,"y":78},{"s":"b20","x":21.7,"y":72},{"s":"b20","x":21.81,"y":66},{"s":"b20","x":21.95,"y":61},{"s":"b20","x":22.09,"y":57},{"s":"b20","x":22.25,"y":53},{"s":"b20","x":22.4,"y":58},{"s":"b20","x":22.55,"y":52},{"s":"b20","x":22.7,"y":56},{"s":"b20","x":22.9,"y":51},{"s":"b20","x":23.05,"y":56},{"s":"b20","x":23.2,"y":52},{"s":"b20","x":23.4,"y":57},{"s":"b20","x":23.6,"y":52},{"s":"b20","x":23.8,"y":58},{"s":"b20","x":24.0,"y":53},{"s":"b20","x":24.2,"y":58},{"s":"b20","x":24.4,"y":54},{"s":"b20","x":24.6,"y":60},{"s":"b20","x":24.8,"y":55},{"s":"b20","x":25.0,"y":61},{"s":"b20","x":25.2,"y":56},{"s":"b20","x":25.4,"y":62},{"s":"b20","x":25.6,"y":57},{"s":"b20","x":25.79,"y":61},{"s":"b20","x":26.0,"y":55},{"s":"b20","x":26.2,"y":59},{"s":"b20","x":26.4,"y":53},{"s":"b20","x":26.6,"y":57},{"s":"b20","x":26.8,"y":52},{"s":"b20","x":27.02,"y":55},{"s":"b20","x":27.2,"y":50},{"s":"b20","x":27.4,"y":55},{"s":"b20","x":27.6,"y":49},{"s":"b20","x":27.8,"y":54},{"s":"b20","x":28.0,"y":49},{"s":"b20","x":28.2,"y":53},{"s":"b20","x":28.4,"y":48},{"s":"b20","x":28.6,"y":53},{"s":"b20","x":28.8,"y":48},{"s":"b20","x":29.0,"y":53},{"s":"b20","x":29.2,"y":48},{"s":"b20","x":29.45,"y":54},{"s":"b20","x":29.65,"y":49},{"s":"b20","x":29.83,"y":53},{"s":"b20","x":30.05,"y":48},{"s":"b20","x":30.25,"y":54},{"s":"b20","x":30.45,"y":49},{"s":"b20","x":30.65,"y":54},{"s":"b20","x":30.89,"y":49},{"s":"b20","x":31.1,"y":55},{"s":"b20","x":31.3,"y":50},{"s":"b20","x":31.5,"y":55},{"s":"b20","x":31.75,"y":50},{"s":"b20","x":31.94,"y":55},{"s":"b20","x":32.15,"y":50},{"s":"b20","x":32.4,"y":56},{"s":"b20","x":32.6,"y":51},{"s":"b20","x":32.8,"y":56},{"s":"b20","x":33.0,"y":51},{"s":"b20","x":33.2,"y":57},{"s":"b20","x":33.4,"y":51},{"s":"b20","x":33.6,"y":57},{"s":"b20","x":33.85,"y":52},{"s":"b20","x":34.05,"y":57},{"s":"b20","x":34.25,"y":52},{"s":"b20","x":34.5,"y":58},{"s":"b20","x":34.7,"y":52},{"s":"b20","x":34.9,"y":58},{"s":"b20","x":35.11,"y":53},{"s":"b20","x":35.3,"y":59},{"s":"b20","x":35.5,"y":53},{"s":"b20","x":35.7,"y":59},{"s":"b20","x":35.95,"y":53},{"s":"b20","x":36.17,"y":59},{"s":"b20","x":36.4,"y":54},{"s":"b20","x":36.6,"y":60},{"s":"b20","x":36.8,"y":54},{"s":"b20","x":37.0,"y":60},{"s":"b20","x":37.22,"y":55},{"s":"b20","x":37.45,"y":60},{"s":"b20","x":37.65,"y":54},{"s":"b20","x":37.85,"y":60},{"s":"b20","x":38.05,"y":55},{"s":"b20","x":38.28,"y":61},{"s":"b20","x":38.5,"y":54},{"s":"b20","x":38.7,"y":60},{"s":"b20","x":38.9,"y":55},{"s":"b20","x":39.1,"y":61},{"s":"b20","x":39.3,"y":55},{"s":"b20","x":39.5,"y":61},{"s":"b20","x":39.7,"y":56},{"s":"b20","x":39.9,"y":61},{"s":"b20","x":40.03,"y":57}
],
"labelsA":[{"x":0.32,"y":444,"t":"=100 wt%"},{"x":0.5,"y":301,"t":"=92 wt%"},{"x":0.64,"y":115,"t":"=45 wt%"},{"x":1.03,"y":14,"t":"=10 wt%"}],
"labelsB":[{"x":1.45,"y":425,"t":"=100 wt%"},{"x":1.27,"y":310,"t":"=98 wt%"},{"x":1.27,"y":207,"t":"=81 wt%"},{"x":1.16,"y":110,"t":"=45 wt%"},{"x":1.45,"y":20,"t":"=20 wt%"}],
"notesA":[{"x":37.65,"y":527,"t":"(A)","k":"big"},{"x":33.97,"y":464,"t":"Form III","k":"bold"},{"x":35.7,"y":13,"t":"GEL","k":"bold"},{"x":38.9,"y":238,"t":"SOLVENT DESORPTION","k":"vert"}],
"notesB":[{"x":36.9,"y":527,"t":"(B)","k":"big"},{"x":35.5,"y":462,"t":"Form III","k":"bold"},{"x":36.15,"y":18,"t":"GEL","k":"bold"},{"x":39.15,"y":227,"t":"SOLVENT DESORPTION","k":"vert"}],
"arrowA":[{"x":35.4,"y":85,"y2":431,"yh":431.5}],
"arrowB":[{"x":36.7,"y":90,"y2":420,"yh":420.5}]
},
"hconcat":[
{
 "width":403,"height":605,
 "view":{"stroke":"#111","strokeWidth":2},
 "resolve":{"axis":{"x":"independent","y":"independent"}},
 "layer":[
  {"data":{"name":"curvesA"},"mark":{"type":"line","color":"#1a1a1a","strokeWidth":1.2},
   "encoding":{
    "x":{"field":"x","type":"quantitative","scale":{"domain":[0,43],"nice":false,"zero":false},"axis":{"orient":"bottom","values":[0,10,20,30,40],"format":"d","offset":-9,"tickSize":9,"labelPadding":10,"domain":false,"title":"2 θ","titleFontSize":21,"titlePadding":12}},
    "y":{"field":"y","type":"quantitative","scale":{"domain":[0,605],"nice":false,"zero":false},"axis":{"orient":"left","title":"Intensity (a.u.)","titleFontSize":23,"titlePadding":30,"titleY":289,"ticks":false,"labels":false,"domain":false}},
    "detail":{"field":"s"}}},
  {"data":{"name":"labelsA"},"mark":{"type":"text","text":"C","fontSize":22,"align":"left","baseline":"alphabetic"},
   "encoding":{
    "x":{"field":"x","type":"quantitative","scale":{"domain":[0,43],"nice":false,"zero":false},"axis":{"orient":"bottom","values":[2,4,6,8,12,14,16,18,22,24,26,28,32,34,36,38,42],"offset":-5,"tickSize":5,"labels":false,"domain":false,"title":null}},
    "y":{"field":"y","type":"quantitative","scale":{"domain":[0,605],"nice":false,"zero":false},"axis":null}}},
  {"data":{"name":"labelsA"},"mark":{"type":"text","text":"pol","fontSize":22,"align":"left","baseline":"alphabetic","dx":17,"dy":7},
   "encoding":{
    "x":{"field":"x","type":"quantitative","scale":{"domain":[0,43],"nice":false,"zero":false},"axis":{"orient":"top","values":[0,10,20,30,40],"offset":-9,"tickSize":9,"labels":false,"domain":false,"title":null}},
    "y":{"field":"y","type":"quantitative","scale":{"domain":[0,605],"nice":false,"zero":false},"axis":null}}},
  {"data":{"name":"labelsA"},"mark":{"type":"text","fontSize":22,"align":"left","baseline":"alphabetic","dx":56},
   "encoding":{
    "x":{"field":"x","type":"quantitative","scale":{"domain":[0,43],"nice":false,"zero":false},"axis":{"orient":"top","values":[2,4,6,8,12,14,16,18,22,24,26,28,32,34,36,38,42],"offset":-5,"tickSize":5,"labels":false,"domain":false,"title":null}},
    "y":{"field":"y","type":"quantitative","scale":{"domain":[0,605],"nice":false,"zero":false},"axis":null},
    "text":{"field":"t"}}},
  {"data":{"name":"notesA"},"transform":[{"filter":"datum.k == 'big'"}],"mark":{"type":"text","fontSize":44,"align":"center","baseline":"alphabetic"},
   "encoding":{
    "x":{"field":"x","type":"quantitative","scale":{"domain":[0,43],"nice":false,"zero":false},"axis":null},
    "y":{"field":"y","type":"quantitative","scale":{"domain":[0,605],"nice":false,"zero":false},"axis":null},
    "text":{"field":"t"}}},
  {"data":{"name":"notesA"},"transform":[{"filter":"datum.k == 'bold'"}],"mark":{"type":"text","fontSize":20,"fontWeight":"bold","align":"center","baseline":"alphabetic"},
   "encoding":{
    "x":{"field":"x","type":"quantitative","scale":{"domain":[0,43],"nice":false,"zero":false},"axis":null},
    "y":{"field":"y","type":"quantitative","scale":{"domain":[0,605],"nice":false,"zero":false},"axis":null},
    "text":{"field":"t"}}},
  {"data":{"name":"notesA"},"transform":[{"filter":"datum.k == 'vert'"}],"mark":{"type":"text","fontSize":22,"fontWeight":"bold","align":"center","baseline":"middle","angle":270},
   "encoding":{
    "x":{"field":"x","type":"quantitative","scale":{"domain":[0,43],"nice":false,"zero":false},"axis":null},
    "y":{"field":"y","type":"quantitative","scale":{"domain":[0,605],"nice":false,"zero":false},"axis":null},
    "text":{"field":"t"}}},
  {"data":{"name":"arrowA"},"mark":{"type":"rule","color":"#111","strokeWidth":3.5},
   "encoding":{
    "x":{"field":"x","type":"quantitative","scale":{"domain":[0,43],"nice":false,"zero":false},"axis":null},
    "y":{"field":"y","type":"quantitative","scale":{"domain":[0,605],"nice":false,"zero":false},"axis":null},
    "y2":{"field":"y2"}}},
  {"data":{"name":"arrowA"},"mark":{"type":"point","shape":"M0,-1L-0.65,1L0.65,1Z","size":289,"filled":true,"color":"#111","opacity":1},
   "encoding":{
    "x":{"field":"x","type":"quantitative","scale":{"domain":[0,43],"nice":false,"zero":false},"axis":null},
    "y":{"field":"yh","type":"quantitative","scale":{"domain":[0,605],"nice":false,"zero":false},"axis":null}}}
 ]
},
{
 "width":397,"height":605,
 "view":{"stroke":null},
 "resolve":{"axis":{"x":"independent","y":"independent"}},
 "layer":[
  {"data":{"name":"curvesB"},"mark":{"type":"line","color":"#1a1a1a","strokeWidth":1.3},
   "encoding":{
    "x":{"field":"x","type":"quantitative","scale":{"domain":[0,42],"nice":false,"zero":false},"axis":{"orient":"bottom","values":[0,5,10,15,20,25,30,35,40],"format":"d","offset":-7,"tickSize":7,"labelPadding":10,"domain":false,"title":"2 θ","titleFontSize":21,"titlePadding":12}},
    "y":{"field":"y","type":"quantitative","scale":{"domain":[0,605],"nice":false,"zero":false},"axis":{"orient":"left","title":"Intensity (a.u.)","titleFontSize":23,"titlePadding":33,"titleY":280,"ticks":false,"labels":false,"domain":true,"domainWidth":2}},
    "detail":{"field":"s"}}},
  {"data":{"name":"labelsB"},"mark":{"type":"text","text":"C","fontSize":22,"align":"left","baseline":"alphabetic"},
   "encoding":{
    "x":{"field":"x","type":"quantitative","scale":{"domain":[0,42],"nice":false,"zero":false},"axis":{"orient":"bottom","values":[1,2,3,4,6,7,8,9,11,12,13,14,16,17,18,19,21,22,23,24,26,27,28,29,31,32,33,34,36,37,38,39,41,42],"offset":-4,"tickSize":4,"labels":false,"domain":false,"title":null}},
    "y":{"field":"y","type":"quantitative","scale":{"domain":[0,605],"nice":false,"zero":false},"axis":null}}},
  {"data":{"name":"labelsB"},"mark":{"type":"text","text":"pol","fontSize":22,"align":"left","baseline":"alphabetic","dx":17,"dy":7},
   "encoding":{
    "x":{"field":"x","type":"quantitative","scale":{"domain":[0,42],"nice":false,"zero":false},"axis":{"orient":"top","values":[0,5,10,15,20,25,30,35,40],"offset":-7,"tickSize":7,"labels":false,"domain":false,"title":null}},
    "y":{"field":"y","type":"quantitative","scale":{"domain":[0,605],"nice":false,"zero":false},"axis":null}}},
  {"data":{"name":"labelsB"},"mark":{"type":"text","fontSize":22,"align":"left","baseline":"alphabetic","dx":55},
   "encoding":{
    "x":{"field":"x","type":"quantitative","scale":{"domain":[0,42],"nice":false,"zero":false},"axis":{"orient":"top","values":[1,2,3,4,6,7,8,9,11,12,13,14,16,17,18,19,21,22,23,24,26,27,28,29,31,32,33,34,36,37,38,39,41,42],"offset":-4,"tickSize":4,"labels":false,"domain":false,"title":null}},
    "y":{"field":"y","type":"quantitative","scale":{"domain":[0,605],"nice":false,"zero":false},"axis":null},
    "text":{"field":"t"}}},
  {"data":{"name":"notesB"},"transform":[{"filter":"datum.k == 'big'"}],"mark":{"type":"text","fontSize":44,"align":"center","baseline":"alphabetic"},
   "encoding":{
    "x":{"field":"x","type":"quantitative","scale":{"domain":[0,42],"nice":false,"zero":false},"axis":{"orient":"bottom","ticks":false,"labels":false,"domain":true,"domainWidth":2,"title":null}},
    "y":{"field":"y","type":"quantitative","scale":{"domain":[0,605],"nice":false,"zero":false},"axis":null},
    "text":{"field":"t"}}},
  {"data":{"name":"notesB"},"transform":[{"filter":"datum.k == 'bold'"}],"mark":{"type":"text","fontSize":20,"fontWeight":"bold","align":"center","baseline":"alphabetic"},
   "encoding":{
    "x":{"field":"x","type":"quantitative","scale":{"domain":[0,42],"nice":false,"zero":false},"axis":{"orient":"top","ticks":false,"labels":false,"domain":true,"domainWidth":2,"title":null}},
    "y":{"field":"y","type":"quantitative","scale":{"domain":[0,605],"nice":false,"zero":false},"axis":null},
    "text":{"field":"t"}}},
  {"data":{"name":"notesB"},"transform":[{"filter":"datum.k == 'vert'"}],"mark":{"type":"text","fontSize":22,"fontWeight":"bold","align":"center","baseline":"middle","angle":270},
   "encoding":{
    "x":{"field":"x","type":"quantitative","scale":{"domain":[0,42],"nice":false,"zero":false},"axis":null},
    "y":{"field":"y","type":"quantitative","scale":{"domain":[0,605],"nice":false,"zero":false},"axis":null},
    "text":{"field":"t"}}},
  {"data":{"name":"arrowB"},"mark":{"type":"rule","color":"#111","strokeWidth":3.5},
   "encoding":{
    "x":{"field":"x","type":"quantitative","scale":{"domain":[0,42],"nice":false,"zero":false},"axis":null},
    "y":{"field":"y","type":"quantitative","scale":{"domain":[0,605],"nice":false,"zero":false},"axis":null},
    "y2":{"field":"y2"}}},
  {"data":{"name":"arrowB"},"mark":{"type":"point","shape":"M0,-1L-0.65,1L0.65,1Z","size":289,"filled":true,"color":"#111","opacity":1},
   "encoding":{
    "x":{"field":"x","type":"quantitative","scale":{"domain":[0,42],"nice":false,"zero":false},"axis":null},
    "y":{"field":"yh","type":"quantitative","scale":{"domain":[0,605],"nice":false,"zero":false},"axis":null}}}
 ]
}
]
}
